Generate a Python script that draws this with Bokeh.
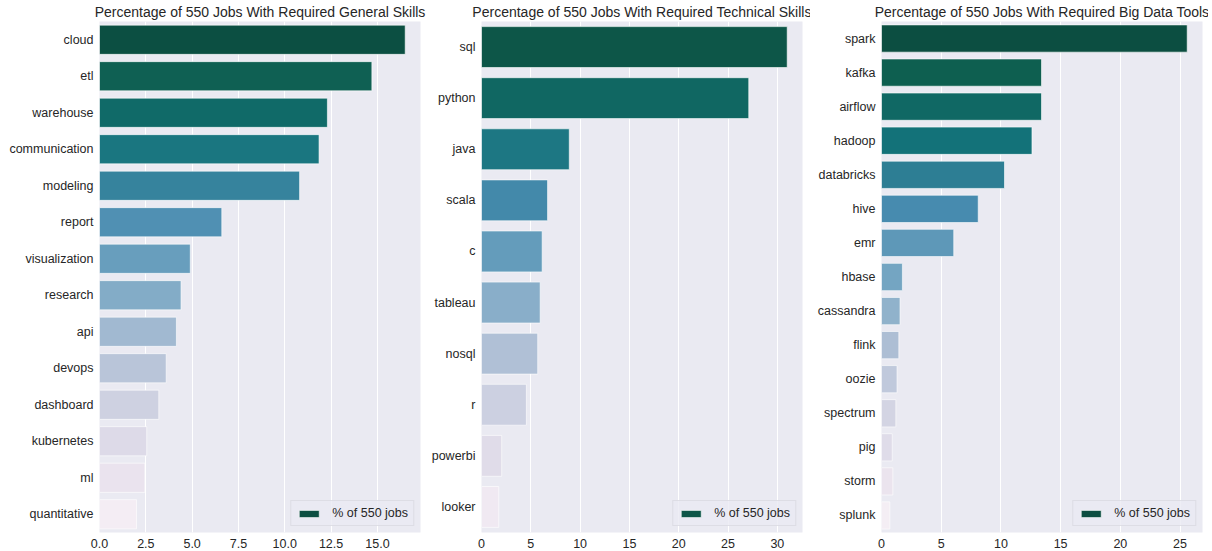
import colorsys
from bokeh.plotting import figure
from bokeh.layouts import row
from bokeh.models import FactorRange, Range1d, FixedTicker, PrintfTickFormatter, ColumnDataSource
from bokeh.embed import file_html
from bokeh.resources import INLINE

# ---------------- data ----------------
general_skills = ["cloud", "etl", "warehouse", "communication", "modeling", "report",
                  "visualization", "research", "api", "devops", "dashboard",
                  "kubernetes", "ml", "quantitative"]
general_pct = [16.5, 14.7, 12.3, 11.85, 10.8, 6.6, 4.9, 4.4, 4.15, 3.6, 3.2, 2.55, 2.45, 2.0]

technical_skills = ["sql", "python", "java", "scala", "c", "tableau", "nosql", "r",
                    "powerbi", "looker"]
technical_pct = [31.0, 27.1, 8.9, 6.7, 6.15, 5.95, 5.7, 4.55, 2.05, 1.75]

bigdata_tools = ["spark", "kafka", "airflow", "hadoop", "databricks", "hive", "emr",
                 "hbase", "cassandra", "flink", "oozie", "spectrum", "pig", "storm", "splunk"]
bigdata_pct = [25.6, 13.4, 13.4, 12.6, 10.3, 8.1, 6.05, 1.75, 1.55, 1.45, 1.3, 1.2, 0.9, 0.95, 0.7]

general_ticks = [0, 2.5, 5, 7.5, 10, 12.5, 15]
technical_ticks = [0, 5, 10, 15, 20, 25, 30]
bigdata_ticks = [0, 5, 10, 15, 20, 25]

legend_text = "% of 550 jobs"
titles = ["Percentage of 550 Jobs With Required General Skills",
          "Percentage of 550 Jobs With Required Technical Skills",
          "Percentage of 550 Jobs With Required Big Data Tools"]

# ---------------- style ----------------
FONT = "Liberation Sans"
TEXT = "#262626"
BG = "#eaeaf2"
PUBUGN = [(255, 247, 251), (236, 226, 240), (208, 209, 230), (166, 189, 219),
          (103, 169, 207), (54, 144, 192), (2, 129, 138), (1, 108, 89), (1, 70, 54)]


def palette(n, sat=0.75):
    cols = []
    for i in range(n):
        t = 1 - (i + 1) / (n + 1)
        pos = t * 8
        k = min(int(pos), 7)
        f = pos - k
        c = [PUBUGN[k][j] * (1 - f) + PUBUGN[k + 1][j] * f for j in range(3)]
        h, l, s = colorsys.rgb_to_hls(*[v / 255 for v in c])
        r, g, b = colorsys.hls_to_rgb(h, l, s * sat)
        cols.append("#%02x%02x%02x" % (round(r * 255), round(g * 255), round(b * 255)))
    return cols


def make_panel(title, cats, vals, ticks, fmt, left_border, right_border):
    n = len(cats)
    src = ColumnDataSource(dict(cat=cats, val=vals, color=palette(n)))
    p = figure(y_range=FactorRange(*reversed(cats)),
               x_range=Range1d(0, max(vals) * 1.05),
               frame_width=321, frame_height=511,
               min_border_left=left_border, min_border_right=right_border,
               min_border_top=0, min_border_bottom=0,
               output_backend="svg", toolbar_location=None, title=title)
    p.hbar(y="cat", right="val", left=0, height=0.8, fill_color="color",
           line_color="white", line_alpha=0.6, line_width=1, source=src,
           legend_label=legend_text)
    p.title.text_font = FONT
    p.title.text_font_size = "14px"
    p.title.text_font_style = "normal"
    p.title.text_color = TEXT
    p.title.align = "center"
    p.title.standoff = 3
    p.background_fill_color = BG
    p.border_fill_color = "white"
    p.outline_line_color = None

    ticker = FixedTicker(ticks=ticks)
    p.xaxis.ticker = ticker
    p.xgrid.ticker = ticker
    p.xaxis.formatter = PrintfTickFormatter(format=fmt)
    p.xgrid.grid_line_color = "white"
    p.xgrid.grid_line_width = 1
    p.ygrid.grid_line_color = None

    for ax in (p.xaxis[0], p.yaxis[0]):
        ax.axis_line_color = None
        ax.major_tick_line_color = None
        ax.minor_tick_line_color = None
        ax.major_tick_out = 0
        ax.major_tick_in = 0
        ax.minor_tick_out = 0
        ax.major_label_text_font = FONT
        ax.major_label_text_font_size = "12.5px"
        ax.major_label_text_color = TEXT
    p.yaxis.major_label_standoff = 6
    p.xaxis.major_label_standoff = 6

    lg = p.legend[0]
    lg.location = "bottom_right"
    lg.margin = 6
    lg.padding = 5
    lg.spacing = 0
    lg.label_standoff = 11
    lg.glyph_width = 25
    lg.glyph_height = 9
    lg.label_text_font = FONT
    lg.label_text_font_size = "12.5px"
    lg.label_text_color = TEXT
    lg.background_fill_color = BG
    lg.background_fill_alpha = 0.8
    lg.border_line_color = "#d0d0d8"
    lg.border_line_width = 1
    return p


p1 = make_panel(titles[0], general_skills, general_pct, general_ticks, "%.1f", 99, 8)
p2 = make_panel(titles[1], technical_skills, technical_pct, technical_ticks, "%d", 52, 8)
p3 = make_panel(titles[2], bigdata_tools, bigdata_pct, bigdata_ticks, "%d", 71, 6)

p = row(p1, p2, p3, spacing=0)
open("out.html", "w").write(file_html(p, INLINE))
